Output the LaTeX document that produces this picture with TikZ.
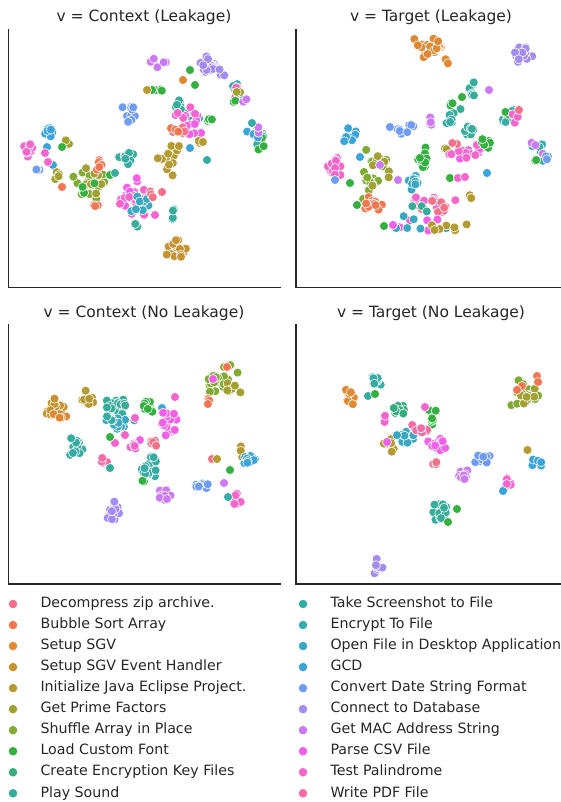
\documentclass[tikz,border=0pt]{standalone}
\usepackage{fontspec}
\setmainfont{DejaVu Sans}
\usepackage{tikz}
\usetikzlibrary{positioning}

\definecolor{axgray}{HTML}{262626}
\definecolor{zip}{HTML}{F67088}
\definecolor{bubble}{HTML}{F37651}
\definecolor{sgv}{HTML}{E08932}
\definecolor{sgvev}{HTML}{C7922F}
\definecolor{java}{HTML}{B49A31}
\definecolor{prime}{HTML}{A1A031}
\definecolor{shuffle}{HTML}{80AB32}
\definecolor{font}{HTML}{33B040}
\definecolor{keyf}{HTML}{35AD80}
\definecolor{sound}{HTML}{36AD9A}
\definecolor{shot}{HTML}{36ADA4}
\definecolor{encf}{HTML}{37ABB2}
\definecolor{openf}{HTML}{38A8C3}
\definecolor{gcd}{HTML}{3AA4DC}
\definecolor{datef}{HTML}{6E9BF4}
\definecolor{dbase}{HTML}{A38BF4}
\definecolor{mac}{HTML}{CC7AF4}
\definecolor{csv}{HTML}{F45FE9}
\definecolor{palin}{HTML}{F565CB}
\definecolor{pdf}{HTML}{F66BA4}

\newcommand{\grp}[6]{%
  \foreach \k in {1,...,#5}{%
    \pgfmathsetmacro{\px}{#1+#3*(rand+rand)/2}%
    \pgfmathsetmacro{\py}{#2+#4*(rand+rand)/2}%
    \path[fill=#6, pt] (\px,\py) circle (4.5pt);
  }}

\begin{document}
\begin{tikzpicture}[x=1pt,y=-1pt,node distance=22.3pt,
    ax/.style={draw=axgray, line width=1.6pt, line cap=rect},
    pt/.style={draw=white, line width=0.6pt},
    ttl/.style={text=axgray, font=\fontsize{15.5}{18}\selectfont, inner sep=0pt},
    lbl/.style={text=axgray, font=\fontsize{14.2}{17}\selectfont, inner sep=0pt,
                text height=10.5pt, text depth=3pt}]
  \tikzstyle{mk}=[circle, draw=white, line width=0.6pt, minimum size=9.5pt, inner sep=0pt]
  \useasboundingbox (0,0) rectangle (561,802);
  \pgfmathsetseed{7}

  \node[ttl] (h1) at (144,17) {v = Context (Leakage)};
  \node[ttl] (h2) at (431,17) {v = Target (Leakage)};
  \node[ttl] (h3) at (144,313) {v = Context (No Leakage)};
  \node[ttl] (h4) at (431,313) {v = Target (No Leakage)};

  \draw[ax] (8.3,29.5) -- (8.3,287.3) -- (280,287.3);
  \draw[ax] (296,29.5) -- (296,287.3) -- (561,287.3);
  \draw[ax] (8.3,325) -- (8.3,584) -- (280,584);
  \draw[ax] (296,325) -- (296,584) -- (561,584);

  \foreach \a/\b/\c/\d/\n/\col in {
    27/148/8/10/14/palin, 48/133/8/6/9/gcd, 47/147/0/0/1/gcd, 53/165/0/0/1/gcd,
    39/170/4/2/3/datef, 67/142/4/5/3/prime, 62/147/0/0/1/font, 45/153/0/0/1/palin,
    48/162/0/0/1/palin, 57/174/3/6/4/prime, 88/182/18/20/20/shuffle, 88/182/16/18/9/prime,
    96/165/6/8/5/bubble, 62/187/0/0/1/bubble, 96/205/8/3/3/bubble, 88/190/15/12/3/font,
    127/155/10/8/9/sound, 128/160/6/5/3/shot, 110/175/0/0/1/font, 115/173/0/0/1/sound,
    130/195/15/22/13/csv, 135/200/20/20/11/palin, 140/205/15/12/9/openf, 150/190/8/10/3/zip,
    135/225/6/3/2/sound, 155/215/0/0/1/palin, 162/192/0/0/1/zip, 173/215/2/8/4/sound,
    177/248/12/13/20/sgvev, 167/162/12/14/13/java, 175/148/6/4/3/java,
    180/110/15/15/11/sound, 190/120/12/10/7/shot, 195/125/15/12/9/csv, 185/115/12/10/5/palin,
    180/130/10/6/4/zip, 210/120/6/6/4/font, 175/128/8/5/3/bubble, 200/143/6/3/3/java,
    190/148/0/0/1/gcd, 133/115/14/12/10/datef, 158/90/14/2/4/font, 147/90/0/0/1/java,
    157/63/10/6/5/mac, 206/65/12/12/19/dbase, 220/73/6/5/3/dbase, 183/80/0/0/1/sgv,
    190/70/0/0/1/font, 195/85/0/0/1/font, 237/93/10/13/7/shot, 237/90/8/10/3/palin,
    240/95/8/10/2/prime, 232/100/6/8/2/font, 243/100/5/5/2/mac, 258/137/12/12/9/shot,
    258/140/10/10/3/font, 255/137/10/10/3/gcd, 260/132/8/8/3/mac, 252/123/0/0/1/shot,
    207/160/0/0/1/shot}
    {\grp{\a}{\b}{\c}{\d}{\n}{\col}}

  \foreach \a/\b/\c/\d/\n/\col in {
    430/48/18/12/25/sgv, 447/61/5/4/3/sgv, 525/54/12/12/20/dbase, 472/92/3/18/8/sound,
    462/97/0/0/1/font, 455/108/8/7/3/sound, 450/104/6/5/2/font, 450/120/5/8/5/shot,
    510/117/10/12/7/shot, 508/112/8/8/3/font, 514/120/6/8/3/palin, 519/110/0/0/1/zip,
    470/130/10/8/7/sound, 489/90/0/0/1/mac, 541/152/11/12/8/shot, 538/148/8/8/3/mac,
    535/160/6/5/2/font, 548/158/6/5/2/datef, 350/137/8/12/9/gcd, 334/167/9/15/15/palin,
    335/180/0/0/1/datef, 400/127/17/9/11/datef, 430/120/3/10/4/mac,
    372/180/17/32/22/shuffle, 375/175/15/25/7/prime, 370/203/17/10/11/bubble,
    423/157/7/17/11/font, 443/151/7/4/4/prime, 465/150/18/17/9/csv, 463/152/16/14/7/palin,
    455/143/6/4/2/zip, 487/142/7/8/7/font, 415/183/8/10/11/openf, 433/202/30/15/15/palin,
    440/205/25/12/6/zip, 420/208/10/5/3/sound, 423/225/43/12/5/csv, 420/225/30/10/6/openf,
    445/228/25/10/7/java, 470/197/3/6/3/java, 450/178/0/0/1/font, 458/178/0/0/1/palin,
    465/177/0/0/1/palin, 487/173/0/0/1/gcd, 380/165/0/0/1/mac, 398/180/0/0/1/mac,
    350/183/0/0/1/font, 357/205/0/0/1/font, 384/226/0/0/1/font, 393/225/0/0/1/csv,
    360/157/0/0/1/gcd}
    {\grp{\a}{\b}{\c}{\d}{\n}{\col}}

  \foreach \a/\b/\c/\d/\n/\col in {
    55/408/12/12/14/sgvev, 60/415/8/6/4/sgv, 88/400/8/11/9/java, 118/404/13/11/16/sound,
    120/424/17/9/14/openf, 110/420/6/5/3/shot, 78/446/10/13/14/shot, 150/407/8/9/9/font,
    162/408/0/0/1/gcd, 170/424/12/14/17/csv, 175/397/0/0/1/palin, 135/418/0/0/1/palin,
    115/443/0/0/1/palin, 110/437/0/0/1/font, 125/435/0/0/1/palin, 140/440/0/0/1/csv,
    133/447/5/7/5/palin, 155/443/8/5/5/zip, 105/460/5/8/4/pdf, 110/468/0/0/1/sound,
    150/467/9/16/20/shot, 142/482/3/3/2/font, 223/380/20/18/20/shuffle, 230/385/13/12/7/prime,
    227/367/0/0/1/bubble, 210/402/4/5/3/bubble, 213/379/0/0/1/csv, 240/452/3/8/3/java,
    250/460/8/8/9/gcd, 212/459/0/0/1/zip, 217/459/0/0/1/java, 230/470/0/0/1/font,
    201/486/11/6/9/datef, 224/483/0/0/1/mac, 237/499/6/8/8/palin, 228/497/0/0/1/shot,
    165/497/8/10/8/mac, 115/512/10/12/15/dbase}
    {\grp{\a}{\b}{\c}{\d}{\n}{\col}}

  \foreach \a/\b/\c/\d/\n/\col in {
    350/398/11/10/11/sgv, 378/380/6/8/7/shot, 368/396/0/0/1/shot, 375/394/0/0/1/font,
    400/410/12/7/11/keyf, 432/415/7/10/8/font, 425/407/0/0/1/palin, 385/422/2/9/4/palin,
    390/447/8/12/8/java, 387/442/0/0/1/csv, 404/437/11/7/11/openf, 422/430/11/7/8/pdf,
    438/443/11/9/13/csv, 433/464/5/3/3/zip, 482/458/9/9/11/datef, 466/476/9/11/9/mac,
    508/483/5/7/7/palin, 503/491/0/0/1/gcd, 528/450/1/3/2/java, 536/462/6/5/8/gcd,
    522/393/18/15/18/shuffle, 528/397/12/10/7/prime, 537/376/0/0/1/bubble,
    538/382/0/0/1/bubble, 522/386/0/0/1/bubble, 517/390/0/0/1/bubble,
    440/511/10/11/17/sound, 457/509/0/0/1/font, 448/522/0/0/1/font, 377/566/7/8/8/dbase}
    {\grp{\a}{\b}{\c}{\d}{\n}{\col}}

  \foreach \i/\col/\txt in {0/zip/Decompress zip archive., 1/bubble/Bubble Sort Array,
      2/sgv/Setup SGV, 3/sgvev/Setup SGV Event Handler,
      4/java/Initialize Java Eclipse Project., 5/prime/Get Prime Factors,
      6/shuffle/Shuffle Array in Place, 7/font/Load Custom Font,
      8/keyf/Create Encryption Key Files, 9/sound/Play Sound}{
    \node[mk, fill=\col] (m\i) at (13,604+21.03*\i) {};
    \node[lbl, right=of m\i] (t\i) {\txt};
  }
  \foreach \i/\col/\txt in {10/shot/Take Screenshot to File, 11/encf/Encrypt To File,
      12/openf/Open File in Desktop Application, 13/gcd/GCD,
      14/datef/Convert Date String Format, 15/dbase/Connect to Database,
      16/mac/Get MAC Address String, 17/csv/Parse CSV File,
      18/palin/Test Palindrome, 19/pdf/Write PDF File}{
    \node[mk, fill=\col] (m\i) at (303,604+21.03*\i-210.3) {};
    \node[lbl, right=of m\i] (t\i) {\txt};
  }
\end{tikzpicture}
\end{document}
